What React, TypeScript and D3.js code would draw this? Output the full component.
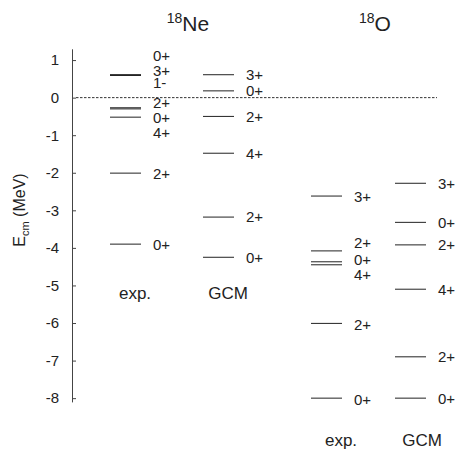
import React, { useEffect, useRef } from 'react'
import * as d3 from 'd3'

// energies (MeV)
const neExpE = [0.61, 0.60, 0.59, -0.27, -0.30, -0.52, -2.01, -3.90]
const neExpJ = ['0+', '3+', '1-', '2+', '0+', '4+', '2+', '0+']
const neExpLabelE = [1.11, 0.73, 0.39, -0.12, -0.54, -0.94, -2.01, -3.92]

const neGcmE = [0.61, 0.18, -0.50, -1.48, -3.18, -4.25]
const neGcmJ = ['3+', '0+', '2+', '4+', '2+', '0+']

const oExpE = [-2.62, -4.08, -4.37, -4.45, -6.01, -8.0]
const oExpJ = ['3+', '2+', '0+', '4+', '2+', '0+']
const oExpLabelE = [-2.64, -3.87, -4.32, -4.72, -6.03, -8.04]

const oGcmE = [-2.28, -3.32, -3.92, -5.10, -6.90, -8.0]
const oGcmJ = ['3+', '0+', '2+', '4+', '2+', '0+']

const yTicks = [1, 0, -1, -2, -3, -4, -5, -6, -7, -8]

const columns = [
  { key: 'neExp', E: neExpE, J: neExpJ, labelE: neExpLabelE },
  { key: 'neGcm', E: neGcmE, J: neGcmJ, labelE: neGcmE },
  { key: 'oExp', E: oExpE, J: oExpJ, labelE: oExpLabelE },
  { key: 'oGcm', E: oGcmE, J: oGcmJ, labelE: oGcmE },
]

const W = 462
const H = 450
const FONT = '"Liberation Sans", Arial, Helvetica, sans-serif'

const App = () => {
  const axisRef = useRef<SVGGElement>(null)

  const y = d3.scaleLinear().domain([-8.1, 1.3]).range([401.9, 48.8])
  // left edge of each column's level lines
  const colX = d3
    .scaleOrdinal<string, number>()
    .domain(columns.map((c) => c.key))
    .range([110, 203, 311, 395])
  const lineW = 31
  const labelGap = 43

  useEffect(() => {
    const g = d3.select(axisRef.current)
    g.selectAll('*').remove()
    g.call(
      d3
        .axisLeft(y)
        .tickValues(yTicks)
        .tickFormat((d) => String(d)) // plain hyphen like the original
        .tickSizeInner(-4)
        .tickSizeOuter(0)
        .tickPadding(13)
    )
    g.select('.domain').attr('stroke', '#444')
    g.selectAll('.tick line').attr('stroke', '#444')
    g.selectAll('.tick text')
      .attr('font-size', 15)
      .attr('font-family', FONT)
      .attr('fill', '#222')
  }, [])

  return (
    <svg
      width={W}
      height={H}
      style={{ position: 'absolute', left: 0, top: 0, background: '#fff' }}
      fontFamily={FONT}
    >
      <g ref={axisRef} transform="translate(72,0)" />

      {/* threshold */}
      <line x1={76} x2={437} y1={y(0)} y2={y(0)} stroke="#333" strokeWidth={1} strokeDasharray="2.5,1.5" />

      {columns.map((c) => (
        <g key={c.key}>
          {c.E.map((e, i) => (
            <line
              key={'l' + i}
              x1={colX(c.key)}
              x2={colX(c.key) + lineW}
              y1={y(e)}
              y2={y(e)}
              stroke="#222"
              strokeWidth={1}
            />
          ))}
          {c.J.map((j, i) => (
            <text
              key={'t' + i}
              x={colX(c.key) + labelGap}
              y={y(c.labelE[i])}
              dy="0.36em"
              fontSize={15}
              fill="#222"
            >
              {j}
            </text>
          ))}
        </g>
      ))}

      {/* column captions */}
      <text x={135} y={293} dy="0.36em" textAnchor="middle" fontSize={17} fill="#222">exp.</text>
      <text x={228} y={293} dy="0.36em" textAnchor="middle" fontSize={17} fill="#222">GCM</text>
      <text x={341} y={440} dy="0.36em" textAnchor="middle" fontSize={17} fill="#222">exp.</text>
      <text x={422} y={440} dy="0.36em" textAnchor="middle" fontSize={17} fill="#222">GCM</text>

      {/* nucleus titles */}
      <text x={188} y={31} textAnchor="middle" fontSize={21} fill="#222">
        <tspan fontSize={14} dy={-8}>18</tspan>
        <tspan dy={8}>Ne</tspan>
      </text>
      <text x={375} y={31} textAnchor="middle" fontSize={21} fill="#222">
        <tspan fontSize={14} dy={-8}>18</tspan>
        <tspan dy={8}>O</tspan>
      </text>

      {/* y label */}
      <text transform="translate(25,210) rotate(-90)" textAnchor="middle" fontSize={16} fill="#222">
        <tspan>E</tspan>
        <tspan fontSize={11} dy={4}>cm</tspan>
        <tspan dy={-4}> (MeV)</tspan>
      </text>
    </svg>
  )
}

export default App
